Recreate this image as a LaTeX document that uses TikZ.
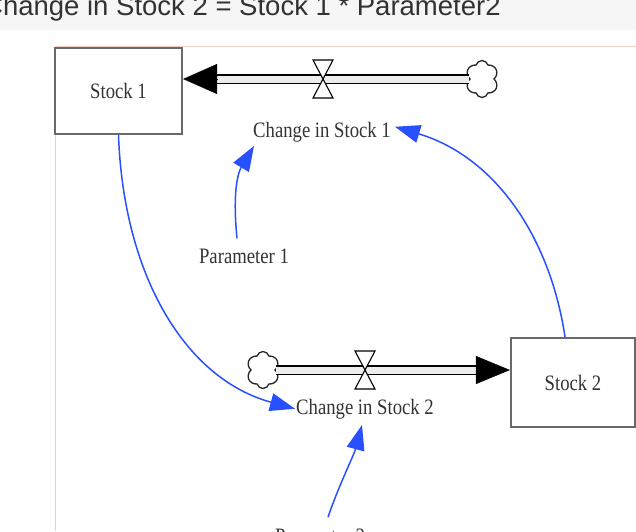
\documentclass[tikz,border=0pt]{standalone}
\usepackage{fontspec}
\setmainfont{Liberation Serif}
\newfontfamily\titlefont{Liberation Sans}
\usetikzlibrary{arrows.meta,shapes.symbols}
\definecolor{linkblue}{RGB}{40,80,255}
\definecolor{canvasedge}{RGB}{248,205,200}
\definecolor{headerbg}{RGB}{246,246,246}
\definecolor{boxedge}{RGB}{105,105,105}
\definecolor{titletext}{RGB}{50,50,50}
\newcommand{\lbl}[1]{\scalebox{0.85}[1]{#1}}
\begin{document}
\begin{tikzpicture}[x=1pt,y=-1pt,
  stockbox/.style={draw=boxedge, line width=2.2pt, fill=white, inner sep=0pt,
    font=\fontsize{22}{26}\selectfont, text=black!80},
  auxtext/.style={font=\fontsize{22}{26}\selectfont, text=black!80, inner sep=1pt},
  linkarrow/.style={draw=linkblue, line width=1.5pt, -{Triangle[length=25pt,width=18pt]}},
  pipe/.style={draw=black, line width=1.4pt, double=gray!15, double distance=7pt},
  flowhead/.style={draw=black, line width=0.4pt},
  cloudstyle/.style={cloud, cloud puffs=6, cloud puff arc=150, draw=black!85, line width=1.3pt,
    fill=white, minimum width=33pt, minimum height=37pt, inner sep=0pt, aspect=0.9, shape border rotate=10},
  valve/.pic={\draw[fill=white, line width=1.1pt] (-10,-19) -- (10,-19) -- (-10,19) -- (10,19) -- cycle;}
]
\useasboundingbox (0,0) rectangle (636,531);
\clip (0,0) rectangle (636,531);
% header band and title
\fill[headerbg] (0,0) rectangle (636,30);
\node[anchor=base west, font=\titlefont\fontsize{27.5}{30}\selectfont, text=titletext, inner sep=0pt]
  (title) at (-17,15) {Change in Stock 2 = Stock 1 * Parameter2};
% canvas edge
\draw[canvasedge, line width=1pt] (55,531) -- (55,46) -- (636,46);

% stocks
\node[stockbox, minimum width=127pt, minimum height=86pt] (stock1) at (118.5,91) {\lbl{Stock 1}};
\node[stockbox, minimum width=124pt, minimum height=89pt] (stock2) at (573,382.5) {\lbl{Stock 2}};

% clouds and valves
\node[cloudstyle] (cloud1) at (482,79) {};
\node[cloudstyle] (cloud2) at (263,370) {};
\coordinate (valve1) at (323,79);
\coordinate (valve2) at (365,370);

% flow pipes
\draw[pipe, shorten >=33pt] (cloud1.west) -- (stock1.east |- cloud1.west);
\draw[flowhead, -{Triangle[length=34pt,width=30pt]}] ([xshift=34pt]stock1.east |- cloud1.west) -- (stock1.east |- cloud1.west);
\draw[pipe, shorten >=33pt] (cloud2.east) -- (stock2.west |- cloud2.east);
\draw[flowhead, -{Triangle[length=34pt,width=28pt]}] ([xshift=-34pt]stock2.west |- cloud2.east) -- (stock2.west |- cloud2.east);
\pic at (valve1) {valve};
\pic at (valve2) {valve};

% labels
\node[auxtext, anchor=base] (flow1) at (322,137) {\lbl{Change in Stock 1}};
\node[auxtext, anchor=base] (flow2) at (365,414) {\lbl{Change in Stock 2}};
\node[auxtext, anchor=base] (param1) at (244,263) {\lbl{Parameter 1}};
\node[auxtext, anchor=base] (param2) at (320,543) {\lbl{Parameter 2}};

% links
\draw[linkarrow] (stock1.south) .. controls +(5,140) and +(-110,-30) .. (flow2.west);
\draw[linkarrow] ([shift={(-7,-9)}]param1.north) .. controls +(-5,-50) and +(-15,25) .. ([shift={(2,3)}]flow1.south west);
\draw[linkarrow] ([xshift=-8pt]stock2.north) .. controls +(-15,-100) and +(100,30) .. ([shift={(3,-5)}]flow1.east);
\draw[linkarrow] ([shift={(8,-10)}]param2.north) .. controls +(10,-30) and +(-8,30) .. ([shift={(-3,5)}]flow2.south);
\end{tikzpicture}
\end{document}
